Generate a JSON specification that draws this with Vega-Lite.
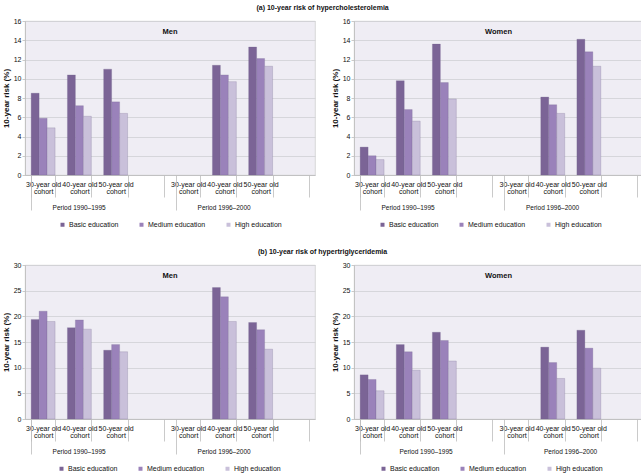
{
  "$schema": "https://vega.github.io/schema/vega-lite/v6.json",
  "padding": {"left": 1, "top": 3, "right": 0, "bottom": 0},
  "background": "white",
  "data": {"values": [
    {"p": "aM", "c": "P1-30", "e": "Basic education", "v": 8.5},
    {"p": "aM", "c": "P1-30", "e": "Medium education", "v": 5.9},
    {"p": "aM", "c": "P1-30", "e": "High education", "v": 4.9},
    {"p": "aM", "c": "P1-40", "e": "Basic education", "v": 10.4},
    {"p": "aM", "c": "P1-40", "e": "Medium education", "v": 7.2},
    {"p": "aM", "c": "P1-40", "e": "High education", "v": 6.1},
    {"p": "aM", "c": "P1-50", "e": "Basic education", "v": 11.0},
    {"p": "aM", "c": "P1-50", "e": "Medium education", "v": 7.6},
    {"p": "aM", "c": "P1-50", "e": "High education", "v": 6.4},
    {"p": "aM", "c": "P2-40", "e": "Basic education", "v": 11.4},
    {"p": "aM", "c": "P2-40", "e": "Medium education", "v": 10.4},
    {"p": "aM", "c": "P2-40", "e": "High education", "v": 9.7},
    {"p": "aM", "c": "P2-50", "e": "Basic education", "v": 13.3},
    {"p": "aM", "c": "P2-50", "e": "Medium education", "v": 12.1},
    {"p": "aM", "c": "P2-50", "e": "High education", "v": 11.3},
    {"p": "aW", "c": "P1-30", "e": "Basic education", "v": 2.9},
    {"p": "aW", "c": "P1-30", "e": "Medium education", "v": 2.0},
    {"p": "aW", "c": "P1-30", "e": "High education", "v": 1.6},
    {"p": "aW", "c": "P1-40", "e": "Basic education", "v": 9.8},
    {"p": "aW", "c": "P1-40", "e": "Medium education", "v": 6.8},
    {"p": "aW", "c": "P1-40", "e": "High education", "v": 5.6},
    {"p": "aW", "c": "P1-50", "e": "Basic education", "v": 13.6},
    {"p": "aW", "c": "P1-50", "e": "Medium education", "v": 9.6},
    {"p": "aW", "c": "P1-50", "e": "High education", "v": 7.9},
    {"p": "aW", "c": "P2-40", "e": "Basic education", "v": 8.1},
    {"p": "aW", "c": "P2-40", "e": "Medium education", "v": 7.3},
    {"p": "aW", "c": "P2-40", "e": "High education", "v": 6.4},
    {"p": "aW", "c": "P2-50", "e": "Basic education", "v": 14.1},
    {"p": "aW", "c": "P2-50", "e": "Medium education", "v": 12.8},
    {"p": "aW", "c": "P2-50", "e": "High education", "v": 11.3},
    {"p": "bM", "c": "P1-30", "e": "Basic education", "v": 19.4},
    {"p": "bM", "c": "P1-30", "e": "Medium education", "v": 21.0},
    {"p": "bM", "c": "P1-30", "e": "High education", "v": 19.0},
    {"p": "bM", "c": "P1-40", "e": "Basic education", "v": 17.8},
    {"p": "bM", "c": "P1-40", "e": "Medium education", "v": 19.3},
    {"p": "bM", "c": "P1-40", "e": "High education", "v": 17.5},
    {"p": "bM", "c": "P1-50", "e": "Basic education", "v": 13.4},
    {"p": "bM", "c": "P1-50", "e": "Medium education", "v": 14.5},
    {"p": "bM", "c": "P1-50", "e": "High education", "v": 13.1},
    {"p": "bM", "c": "P2-40", "e": "Basic education", "v": 25.6},
    {"p": "bM", "c": "P2-40", "e": "Medium education", "v": 23.8},
    {"p": "bM", "c": "P2-40", "e": "High education", "v": 19.0},
    {"p": "bM", "c": "P2-50", "e": "Basic education", "v": 18.8},
    {"p": "bM", "c": "P2-50", "e": "Medium education", "v": 17.4},
    {"p": "bM", "c": "P2-50", "e": "High education", "v": 13.6},
    {"p": "bW", "c": "P1-30", "e": "Basic education", "v": 8.6},
    {"p": "bW", "c": "P1-30", "e": "Medium education", "v": 7.7},
    {"p": "bW", "c": "P1-30", "e": "High education", "v": 5.5},
    {"p": "bW", "c": "P1-40", "e": "Basic education", "v": 14.5},
    {"p": "bW", "c": "P1-40", "e": "Medium education", "v": 13.1},
    {"p": "bW", "c": "P1-40", "e": "High education", "v": 9.5},
    {"p": "bW", "c": "P1-50", "e": "Basic education", "v": 16.9},
    {"p": "bW", "c": "P1-50", "e": "Medium education", "v": 15.3},
    {"p": "bW", "c": "P1-50", "e": "High education", "v": 11.3},
    {"p": "bW", "c": "P2-40", "e": "Basic education", "v": 14.0},
    {"p": "bW", "c": "P2-40", "e": "Medium education", "v": 11.0},
    {"p": "bW", "c": "P2-40", "e": "High education", "v": 7.9},
    {"p": "bW", "c": "P2-50", "e": "Basic education", "v": 17.3},
    {"p": "bW", "c": "P2-50", "e": "Medium education", "v": 13.8},
    {"p": "bW", "c": "P2-50", "e": "High education", "v": 9.9}
  ]},
  "spacing": 18,
  "resolve": {"scale": {"x": "independent", "y": "independent", "color": "independent"}, "legend": {"color": "independent"}},
  "vconcat": [
    {
      "title": {"text": "(a) 10-year risk of hypercholesterolemia"},
      "spacing": 14,
      "resolve": {"scale": {"x": "independent", "y": "independent", "color": "independent"}, "legend": {"color": "independent"}},
      "hconcat": [
        {
          "width": 290, "height": 154,
          "title": {"text": "Men", "offset": -18, "fontSize": 7.5},
          "transform": [{"filter": "datum.p == 'aM'"}],
          "layer": [
            {"mark": {"type": "bar", "stroke": "#6f6088", "strokeWidth": 0.4, "strokeOpacity": 0.6},
             "encoding": {
               "x": {"field": "c", "type": "nominal", "scale": {"domain": ["P1-30","P1-40","P1-50","P1-gap","P2-30","P2-40","P2-50","P2-gap"], "paddingInner": 0.34, "paddingOuter": 0.17},
                     "axis": {"title": null, "tickBand": "extent", "tickSize": 22, "labelPadding": -17, "labelAngle": 0, "labelLineHeight": 7.5, "labelOverlap": false, "labelBound": false, "labelExpr": "(datum.value == 'P1-30' || datum.value == 'P2-30') ? ['30-year old', 'cohort'] : (datum.value == 'P1-40' || datum.value == 'P2-40') ? ['40-year old', 'cohort'] : (datum.value == 'P1-50' || datum.value == 'P2-50') ? ['50-year old', 'cohort'] : ''"}},
               "xOffset": {"field": "e", "type": "nominal", "sort": ["Basic education","Medium education","High education"]},
               "y": {"field": "v", "type": "quantitative", "scale": {"domain": [0, 16]}, "axis": {"values": [0,2,4,6,8,10,12,14,16], "title": "10-year risk (%)"}},
               "color": {"field": "e", "type": "nominal", "scale": {"domain": ["Basic education","Medium education","High education"], "range": ["#7b6496","#9a82ba","#c9c0da"]}, "legend": {"orient": "none", "legendX": 34, "legendY": 200}}
             }},
            {"mark": {"type": "bar", "opacity": 0},
             "encoding": {
               "x": {"field": "c", "type": "nominal", "axis": {"orient": "bottom", "title": null, "values": ["P1-30","P2-30"], "bandPosition": 0, "tickExtra": false, "tickSize": 35, "labelPadding": -6, "labelAngle": 0, "labelOffset": 36, "labelFontSize": 6.5, "domain": false, "grid": false, "labelOverlap": false, "labelBound": false, "labelExpr": "datum.value == 'P1-30' ? 'Period 1990–1995' : datum.value == 'P2-30' ? 'Period 1996–2000' : ''"}}
             }}
          ],
          "resolve": {"axis": {"x": "independent"}}
        },
        {
          "width": 289, "height": 154,
          "title": {"text": "Women", "offset": -18, "fontSize": 7.5},
          "transform": [{"filter": "datum.p == 'aW'"}],
          "layer": [
            {"mark": {"type": "bar", "stroke": "#6f6088", "strokeWidth": 0.4, "strokeOpacity": 0.6},
             "encoding": {
               "x": {"field": "c", "type": "nominal", "scale": {"domain": ["P1-30","P1-40","P1-50","P1-gap","P2-30","P2-40","P2-50","P2-gap"], "paddingInner": 0.34, "paddingOuter": 0.17},
                     "axis": {"title": null, "tickBand": "extent", "tickSize": 22, "labelPadding": -17, "labelAngle": 0, "labelLineHeight": 7.5, "labelOverlap": false, "labelBound": false, "labelExpr": "(datum.value == 'P1-30' || datum.value == 'P2-30') ? ['30-year old', 'cohort'] : (datum.value == 'P1-40' || datum.value == 'P2-40') ? ['40-year old', 'cohort'] : (datum.value == 'P1-50' || datum.value == 'P2-50') ? ['50-year old', 'cohort'] : ''"}},
               "xOffset": {"field": "e", "type": "nominal", "sort": ["Basic education","Medium education","High education"]},
               "y": {"field": "v", "type": "quantitative", "scale": {"domain": [0, 16]}, "axis": {"values": [0,2,4,6,8,10,12,14,16], "title": "10-year risk (%)"}},
               "color": {"field": "e", "type": "nominal", "scale": {"domain": ["Basic education","Medium education","High education"], "range": ["#7b6496","#9a82ba","#c9c0da"]}, "legend": {"orient": "none", "legendX": 25, "legendY": 200}}
             }},
            {"mark": {"type": "bar", "opacity": 0},
             "encoding": {
               "x": {"field": "c", "type": "nominal", "axis": {"orient": "bottom", "title": null, "values": ["P1-30","P2-30"], "bandPosition": 0, "tickExtra": false, "tickSize": 35, "labelPadding": -6, "labelAngle": 0, "labelOffset": 36, "labelFontSize": 6.5, "domain": false, "grid": false, "labelOverlap": false, "labelBound": false, "labelExpr": "datum.value == 'P1-30' ? 'Period 1990–1995' : datum.value == 'P2-30' ? 'Period 1996–2000' : ''"}}
             }}
          ],
          "resolve": {"axis": {"x": "independent"}}
        }
      ]
    },
    {
      "title": {"text": "(b) 10-year risk of hypertriglyceridemia"},
      "spacing": 14,
      "resolve": {"scale": {"x": "independent", "y": "independent", "color": "independent"}, "legend": {"color": "independent"}},
      "hconcat": [
        {
          "width": 290, "height": 154,
          "title": {"text": "Men", "offset": -18, "fontSize": 7.5},
          "transform": [{"filter": "datum.p == 'bM'"}],
          "layer": [
            {"mark": {"type": "bar", "stroke": "#6f6088", "strokeWidth": 0.4, "strokeOpacity": 0.6},
             "encoding": {
               "x": {"field": "c", "type": "nominal", "scale": {"domain": ["P1-30","P1-40","P1-50","P1-gap","P2-30","P2-40","P2-50","P2-gap"], "paddingInner": 0.34, "paddingOuter": 0.17},
                     "axis": {"title": null, "tickBand": "extent", "tickSize": 22, "labelPadding": -17, "labelAngle": 0, "labelLineHeight": 7.5, "labelOverlap": false, "labelBound": false, "labelExpr": "(datum.value == 'P1-30' || datum.value == 'P2-30') ? ['30-year old', 'cohort'] : (datum.value == 'P1-40' || datum.value == 'P2-40') ? ['40-year old', 'cohort'] : (datum.value == 'P1-50' || datum.value == 'P2-50') ? ['50-year old', 'cohort'] : ''"}},
               "xOffset": {"field": "e", "type": "nominal", "sort": ["Basic education","Medium education","High education"]},
               "y": {"field": "v", "type": "quantitative", "scale": {"domain": [0, 30]}, "axis": {"values": [0,5,10,15,20,25,30], "title": "10-year risk (%)"}},
               "color": {"field": "e", "type": "nominal", "scale": {"domain": ["Basic education","Medium education","High education"], "range": ["#7b6496","#9a82ba","#c9c0da"]}, "legend": {"orient": "none", "legendX": 33, "legendY": 200}}
             }},
            {"mark": {"type": "bar", "opacity": 0},
             "encoding": {
               "x": {"field": "c", "type": "nominal", "axis": {"orient": "bottom", "title": null, "values": ["P1-30","P2-30"], "bandPosition": 0, "tickExtra": false, "tickSize": 35, "labelPadding": -6, "labelAngle": 0, "labelOffset": 36, "labelFontSize": 6.5, "domain": false, "grid": false, "labelOverlap": false, "labelBound": false, "labelExpr": "datum.value == 'P1-30' ? 'Period 1990–1995' : datum.value == 'P2-30' ? 'Period 1996–2000' : ''"}}
             }}
          ],
          "resolve": {"axis": {"x": "independent"}}
        },
        {
          "width": 289, "height": 154,
          "title": {"text": "Women", "offset": -18, "fontSize": 7.5},
          "transform": [{"filter": "datum.p == 'bW'"}],
          "layer": [
            {"mark": {"type": "bar", "stroke": "#6f6088", "strokeWidth": 0.4, "strokeOpacity": 0.6},
             "encoding": {
               "x": {"field": "c", "type": "nominal", "scale": {"domain": ["P1-30","P1-40","P1-50","P1-gap","P2-30","P2-40","P2-50","P2-gap"], "paddingInner": 0.34, "paddingOuter": 0.17},
                     "axis": {"title": null, "tickBand": "extent", "tickSize": 22, "labelPadding": -17, "labelAngle": 0, "labelLineHeight": 7.5, "labelOverlap": false, "labelBound": false, "labelExpr": "(datum.value == 'P1-30' || datum.value == 'P2-30') ? ['30-year old', 'cohort'] : (datum.value == 'P1-40' || datum.value == 'P2-40') ? ['40-year old', 'cohort'] : (datum.value == 'P1-50' || datum.value == 'P2-50') ? ['50-year old', 'cohort'] : ''"}},
               "xOffset": {"field": "e", "type": "nominal", "sort": ["Basic education","Medium education","High education"]},
               "y": {"field": "v", "type": "quantitative", "scale": {"domain": [0, 30]}, "axis": {"values": [0,5,10,15,20,25,30], "title": "10-year risk (%)"}},
               "color": {"field": "e", "type": "nominal", "scale": {"domain": ["Basic education","Medium education","High education"], "range": ["#7b6496","#9a82ba","#c9c0da"]}, "legend": {"orient": "none", "legendX": 26, "legendY": 200}}
             }},
            {"mark": {"type": "bar", "opacity": 0},
             "encoding": {
               "x": {"field": "c", "type": "nominal", "axis": {"orient": "bottom", "title": null, "values": ["P1-30","P2-30"], "bandPosition": 0, "tickExtra": false, "tickSize": 35, "labelPadding": -6, "labelAngle": 0, "labelOffset": 54, "labelFontSize": 6.5, "domain": false, "grid": false, "labelOverlap": false, "labelBound": false, "labelExpr": "datum.value == 'P1-30' ? 'Period 1990–1995' : datum.value == 'P2-30' ? 'Period 1996–2000' : ''"}}
             }}
          ],
          "resolve": {"axis": {"x": "independent"}}
        }
      ]
    }
  ],
  "config": {
    "font": "Liberation Sans",
    "view": {"fill": "#efedf4", "stroke": "#cfcfcf", "strokeWidth": 0.8},
    "title": {"fontSize": 7, "fontWeight": "bold", "color": "#111111", "anchor": "middle", "offset": 6},
    "axis": {"labelFontSize": 7, "labelFontWeight": "normal", "labelColor": "#111111", "titleFontSize": 8, "titleFontWeight": "bold", "titleColor": "#111111", "domainColor": "#bdbdbd", "tickColor": "#bdbdbd", "gridColor": "#cfcfd4", "domainWidth": 0.8, "tickWidth": 0.8, "gridWidth": 0.8},
    "axisY": {"tickSize": 3, "labelPadding": 1, "titlePadding": 3, "grid": true},
    "axisX": {"grid": false},
    "legend": {"direction": "horizontal", "title": null, "padding": 0, "symbolType": "square", "symbolSize": 16, "symbolStrokeWidth": 0, "labelFontSize": 7, "labelFontWeight": "normal", "labelColor": "#111111", "columnPadding": 19, "labelOffset": 3}
  }
}
